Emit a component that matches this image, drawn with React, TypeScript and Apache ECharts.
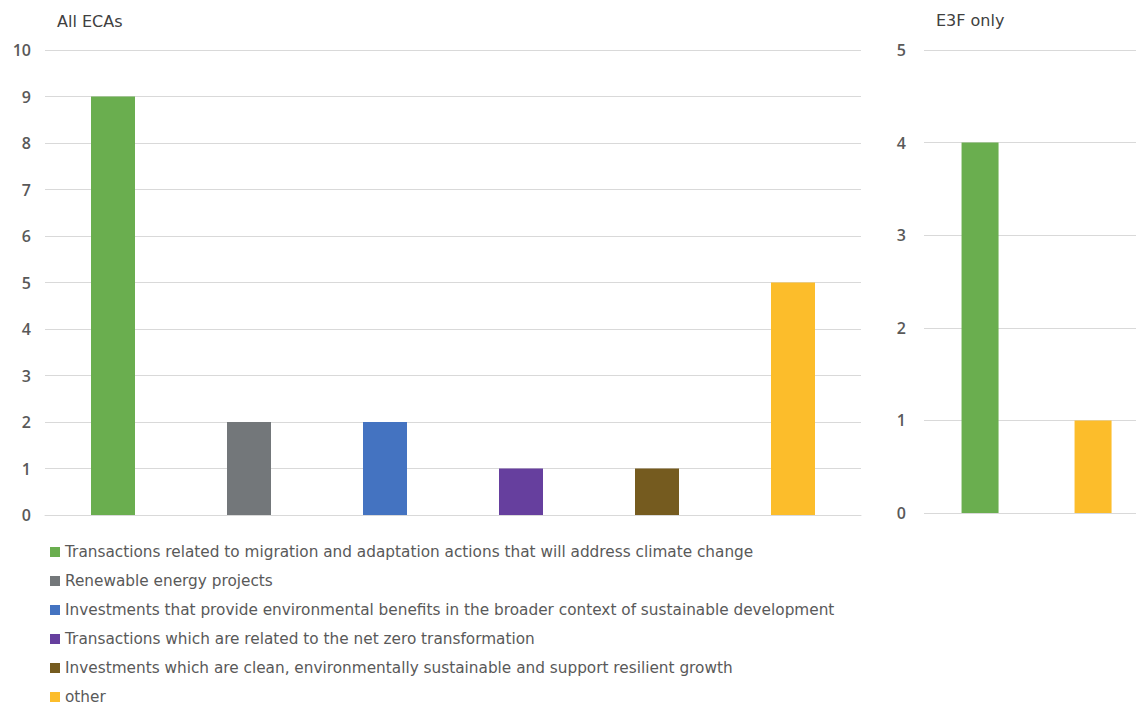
import React, { useEffect, useRef } from "react";
import * as echarts from "echarts";

const categories = [
  "Transactions related to migration and adaptation actions that will address climate change",
  "Renewable energy projects",
  "Investments that provide environmental benefits in the broader context of sustainable development",
  "Transactions which are related to the net zero transformation",
  "Investments which are clean, environmentally sustainable and support resilient growth",
  "other",
];
const allECAs = [9, 2, 2, 1, 1, 5];
const e3fCategories = [categories[0], categories[5]];
const e3fOnly = [4, 1];
const colors = ["#6aae4f", "#73777a", "#4473c1", "#663f9e", "#755b1f", "#fcbd2b"];
const leftTicks = { min: 0, max: 10, interval: 1 };
const rightTicks = { min: 0, max: 5, interval: 1 };

const FONT = "DejaVu Sans";
const TXT = "#595959";

export default function App() {
  const ref = useRef<HTMLDivElement>(null);
  useEffect(() => {
    const chart = echarts.init(ref.current!, null, { renderer: "svg" });
    const series: any[] = [];
    categories.forEach((name, i) => {
      series.push({
        name,
        type: "bar",
        stack: "left",
        xAxisIndex: 0,
        yAxisIndex: 0,
        barWidth: 44,
        itemStyle: { color: colors[i] },
        data: allECAs.map((v, j) => (j === i ? v : "-")),
      });
      const k = e3fCategories.indexOf(name);
      if (k >= 0) {
        series.push({
          name,
          type: "bar",
          xAxisIndex: 1,
          yAxisIndex: 1,
          barWidth: 37,
          barGap: "-100%",
          itemStyle: { color: colors[i] },
          data: [[k, e3fOnly[k]]],
        });
      }
    });
    const yAxisCommon = {
      type: "value",
      axisLine: { show: false },
      axisTick: { show: false },
      splitLine: { lineStyle: { color: "#d9d9d9", width: 1 } },
      axisLabel: { color: TXT, fontFamily: "Open Sans", fontSize: 16, fontWeight: 600 },
    };
    chart.setOption({
      animation: false,
      backgroundColor: "#ffffff",
      title: [
        {
          text: "All ECAs",
          left: 52,
          top: 8,
          textStyle: { fontFamily: FONT, fontSize: 16, fontWeight: "normal", color: "#404040" },
        },
        {
          text: "E3F only",
          left: 931,
          top: 7,
          textStyle: { fontFamily: FONT, fontSize: 16, fontWeight: "normal", color: "#404040" },
        },
      ],
      grid: [
        { left: 45, right: 275, top: 50, bottom: 191, containLabel: false },
        { left: 924, right: 0, top: 50, bottom: 193, containLabel: false },
      ],
      xAxis: [
        {
          type: "category",
          gridIndex: 0,
          data: categories,
          axisLine: { show: true, lineStyle: { color: "#d9d9d9" } },
          axisTick: { show: false },
          axisLabel: { show: false },
        },
        {
          type: "value",
          gridIndex: 1,
          min: -0.496,
          max: 1.38,
          axisLine: { show: false },
          axisTick: { show: false },
          axisLabel: { show: false },
          splitLine: { show: false },
        },
      ],
      yAxis: [
        { ...yAxisCommon, gridIndex: 0, ...leftTicks, axisLabel: { ...yAxisCommon.axisLabel, margin: 14 } },
        { ...yAxisCommon, gridIndex: 1, ...rightTicks, axisLabel: { ...yAxisCommon.axisLabel, margin: 18 } },
      ],
      legend: {
        orient: "vertical",
        left: 45,
        top: 539,
        height: 200,
        itemWidth: 10,
        itemHeight: 10,
        itemGap: 13,
        icon: "rect",
        data: categories,
        textStyle: { fontFamily: FONT, fontSize: 15.3, color: TXT, lineHeight: 16 },
      },
      series,
    });
    return () => chart.dispose();
  }, []);
  return (
    <div
      ref={ref}
      style={{ position: "fixed", left: 0, top: 0, width: 1136, height: 706, background: "#fff" }}
    />
  );
}
